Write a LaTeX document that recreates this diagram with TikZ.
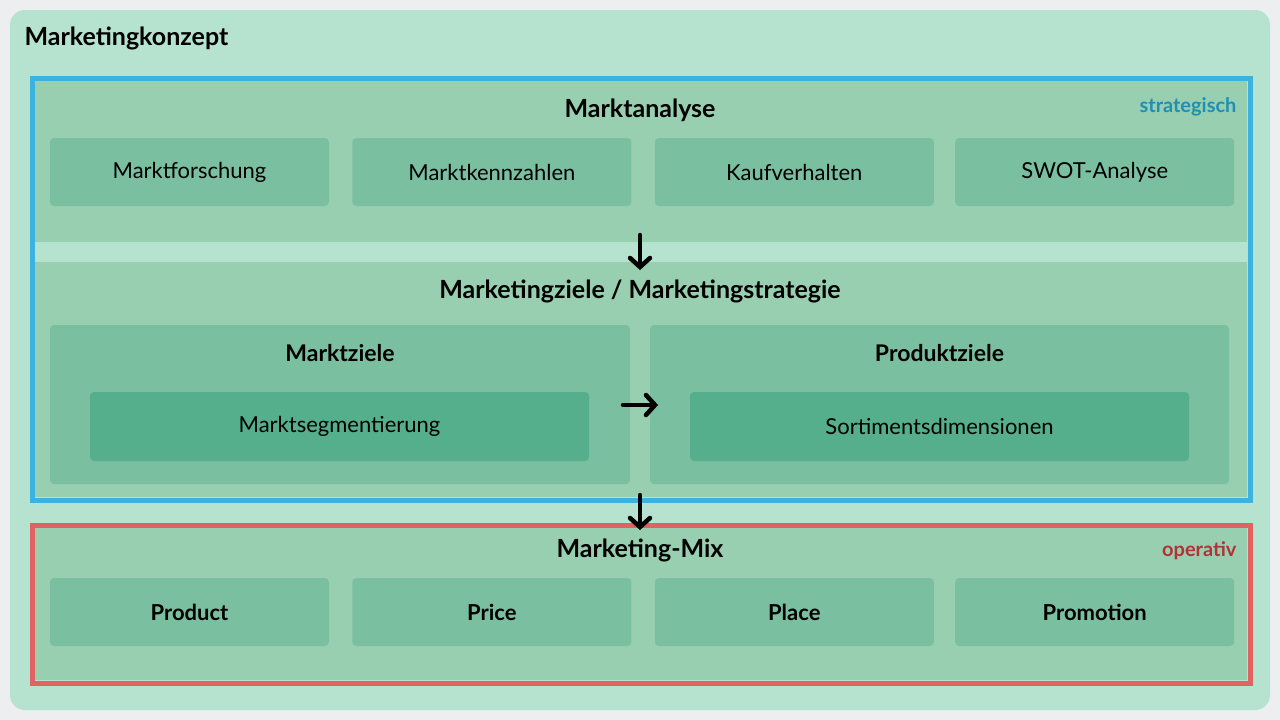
\documentclass[tikz,border=0pt]{standalone}
\usepackage{fontspec}
\setmainfont{Lato}
\usetikzlibrary{positioning, arrows.meta}
\definecolor{bgGrey}{HTML}{ECEEF0}
\definecolor{panelLight}{HTML}{B5E3CF}
\definecolor{secGreen}{HTML}{98CFB0}
\definecolor{boxGreen}{HTML}{7ABFA0}
\definecolor{innerGreen}{HTML}{55AF8D}
\definecolor{stratBlue}{HTML}{3BB2E0}
\definecolor{stratText}{HTML}{1E8FB5}
\definecolor{opRed}{HTML}{E06262}
\definecolor{opText}{HTML}{B03434}
\tikzset{
  box/.style={fill=boxGreen, rounded corners=4pt, minimum width=279pt, minimum height=68pt, font=\fontsize{22}{26}\selectfont, inner sep=0pt},
  inner box/.style={fill=innerGreen, rounded corners=4pt, minimum width=499pt, minimum height=69pt, font=\fontsize{22}{26}\selectfont, inner sep=0pt},
  title/.style={font=\fontsize{25}{30}\selectfont\bfseries},
  flow/.style={line width=4.5pt, line cap=round, -{Straight Barb[length=9pt, width=20pt, line width=4.5pt, line cap=round]}}
}
\begin{document}
\begin{tikzpicture}[x=1pt, y=-1pt]
        \useasboundingbox[fill=bgGrey] (0,0) rectangle (1280,720);
        \fill[panelLight, rounded corners=15pt] (10,10) rectangle (1270,710);
        \node[title, anchor=west] (konzept) at (21,38) {Marketingkonzept};

        % strategisch
        \fill[secGreen] (35,81) rectangle (1247,242);
        \fill[secGreen] (35,262) rectangle (1247,497);
        \draw[stratBlue, line width=5pt] (32,78) rectangle (1250,500);
        \node[font=\fontsize{20}{24}\selectfont\bfseries, text=stratText, anchor=east] (strat) at (1240,107) {strategisch};
        \node[title] (analyse) at (640,110) {Marktanalyse};
        \node[box] (forsch) at (189.5,172) {Marktforschung};
        \node[box, right=23pt of forsch] (kennz) {Marktkennzahlen};
        \node[box, right=23pt of kennz] (kauf) {Kaufverhalten};
        \node[box, right=21pt of kauf] (swot) {SWOT-Analyse};

        \node[title] (ziele) at (640,291) {Marketingziele / Marketingstrategie};
        \node[box, minimum width=580pt, minimum height=159pt] (mziele) at (340,404.5) {};
        \node[box, minimum width=579pt, minimum height=159pt] (pziele) at (939.5,404.5) {};
        \node[title, font=\fontsize{23}{28}\selectfont\bfseries] at (340,353) {Marktziele};
        \node[title, font=\fontsize{23}{28}\selectfont\bfseries] at (939.5,353) {Produktziele};
        \node[inner box] (segm) at (339.5,426.5) {Marktsegmentierung};
        \node[inner box] (sort) at (939.5,426.5) {Sortimentsdimensionen};

        % operativ
        \fill[secGreen] (35,528) rectangle (1247,680);
        \draw[opRed, line width=5pt] (32,525) rectangle (1250,683);
        \node[font=\fontsize{20}{24}\selectfont\bfseries, text=opText, anchor=east] (op) at (1240,551) {operativ};
        \node[title] (mix) at (640,550) {Marketing-Mix};
        \node[box, font=\fontsize{22}{26}\selectfont\bfseries] (product) at (189.5,612) {Product};
        \node[box, font=\fontsize{22}{26}\selectfont\bfseries, right=23pt of product] (price) {Price};
        \node[box, font=\fontsize{22}{26}\selectfont\bfseries, right=23pt of price] (place) {Place};
        \node[box, font=\fontsize{22}{26}\selectfont\bfseries, right=21pt of place] (promo) {Promotion};

        \coordinate (a1) at (640,235);
        \coordinate (a2) at (640,270);
        \coordinate (b1) at (623,405);
        \coordinate (b2) at (658,405);
        \coordinate (c1) at (640,495);
        \coordinate (c2) at (640,530);
        \draw[flow] (a1) -- (a2);
        \draw[flow] (b1) -- (b2);
        \draw[flow] (c1) -- (c2);
\end{tikzpicture}
\end{document}
